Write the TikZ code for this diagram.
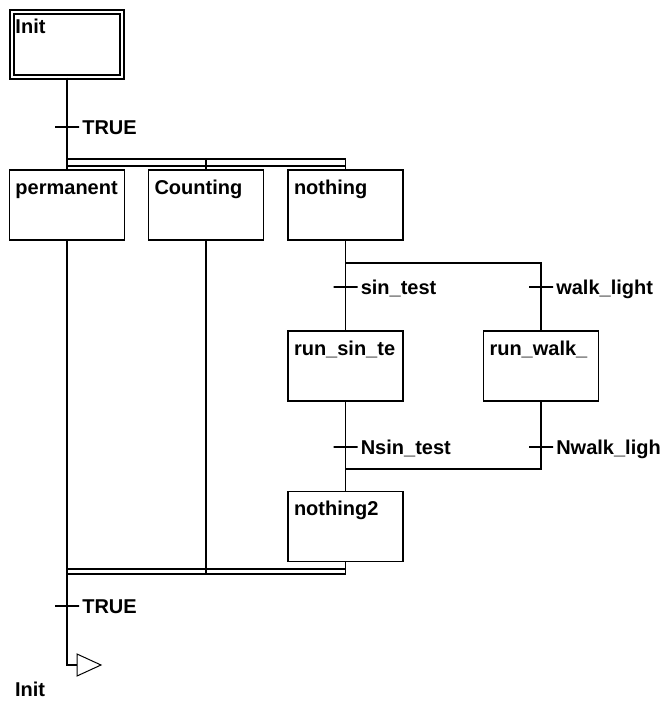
\documentclass[tikz,border=0pt]{standalone}
\usepackage{fontspec}
\setmainfont{Liberation Sans}
\usepackage{tikz}
\newcommand{\sfcfont}{\fontsize{20}{24}\selectfont\bfseries}
\tikzset{
	step node/.style={draw,rectangle,minimum width=115pt,minimum height=70pt,text width=103pt,align=left,
		inner xsep=6pt,inner ysep=0pt,text height=24pt,text depth=46pt},
	init node/.style={draw,double,double distance=2.6pt,rectangle,minimum width=110pt,minimum height=65pt,
		text width=103pt,align=left,inner xsep=3.5pt,inner ysep=0pt,text height=21pt,text depth=44pt},
	trans node/.style={draw,rectangle,minimum width=24pt,minimum height=0pt,inner sep=0pt},
	cond/.style={anchor=base west,inner sep=0pt,xshift=2pt,yshift=-7.5pt}
}

\begin{document}
\begin{tikzpicture}[x=1pt,y=-1pt,line width=1.3pt,font=\sfcfont]
	\useasboundingbox (0,0) rectangle (666,702);
	\node [init node] (1) at (67,44.5) {Init};
	\node [step node] (2) at (67,205) {permanent};
	\node [step node] (3) at (206,205) {Counting};
	\node [step node] (4) at (345.5,205) {nothing};
	\node [step node] (5) at (345.5,366) {run\_sin\_te};
	\node [step node] (6) at (541,366) {run\_walk\_};
	\node [step node] (7) at (345.5,526.5) {nothing2};
	\node [trans node,label={[cond]east:TRUE}] (t1) at (67,127) {};
	\node [trans node,label={[cond]east:sin\_test}] (t2) at (345.5,287) {};
	\node [trans node,label={[cond]east:walk\_light}] (t3) at (541,287) {};
	\node [trans node,label={[cond]east:Nsin\_test}] (t4) at (345.5,447) {};
	\node [trans node,label={[cond]east:Nwalk\_ligh}] (t5) at (541,447) {};
	\node [trans node,label={[cond]east:TRUE}] (t6) at (67,606) {};
	\node [anchor=base west,inner sep=0pt] (8) at (14.5,696) {Init};
	\coordinate (a1) at (67,159);
	\coordinate (a2) at (67,166);
	\coordinate (d1) at (345.5,263);
	\coordinate (d2) at (345.5,469);
	\coordinate (e1) at (67,569);
	\coordinate (e2) at (67,574);
	\coordinate (j1) at (67,665);
	\coordinate (j2) at (77,665);
	\draw (1) -- (2);
	\draw (a1) -- (a1 -| 4) (a2) -- (a2 -| 4);
	\draw (a1 -| 3) -- (3);
	\draw (a1 -| 4) -- (4);
	\draw (4) -- (d1) -| (6);
	\draw (d1) -- (5);
	\draw (5) -- (7);
	\draw (6) |- (d2);
	\draw (2) -- (j1) -- (j2);
	\draw (3) -- (e2 -| 3);
	\draw (7) -- (e2 -| 7);
	\draw (e1) -- (e1 -| 7) (e2) -- (e2 -| 7);
	\draw [line width=1pt] (j2) -- ++(0,-11) -- ++(24,11) -- ++(-24,11) -- cycle;
\end{tikzpicture}
\end{document}
